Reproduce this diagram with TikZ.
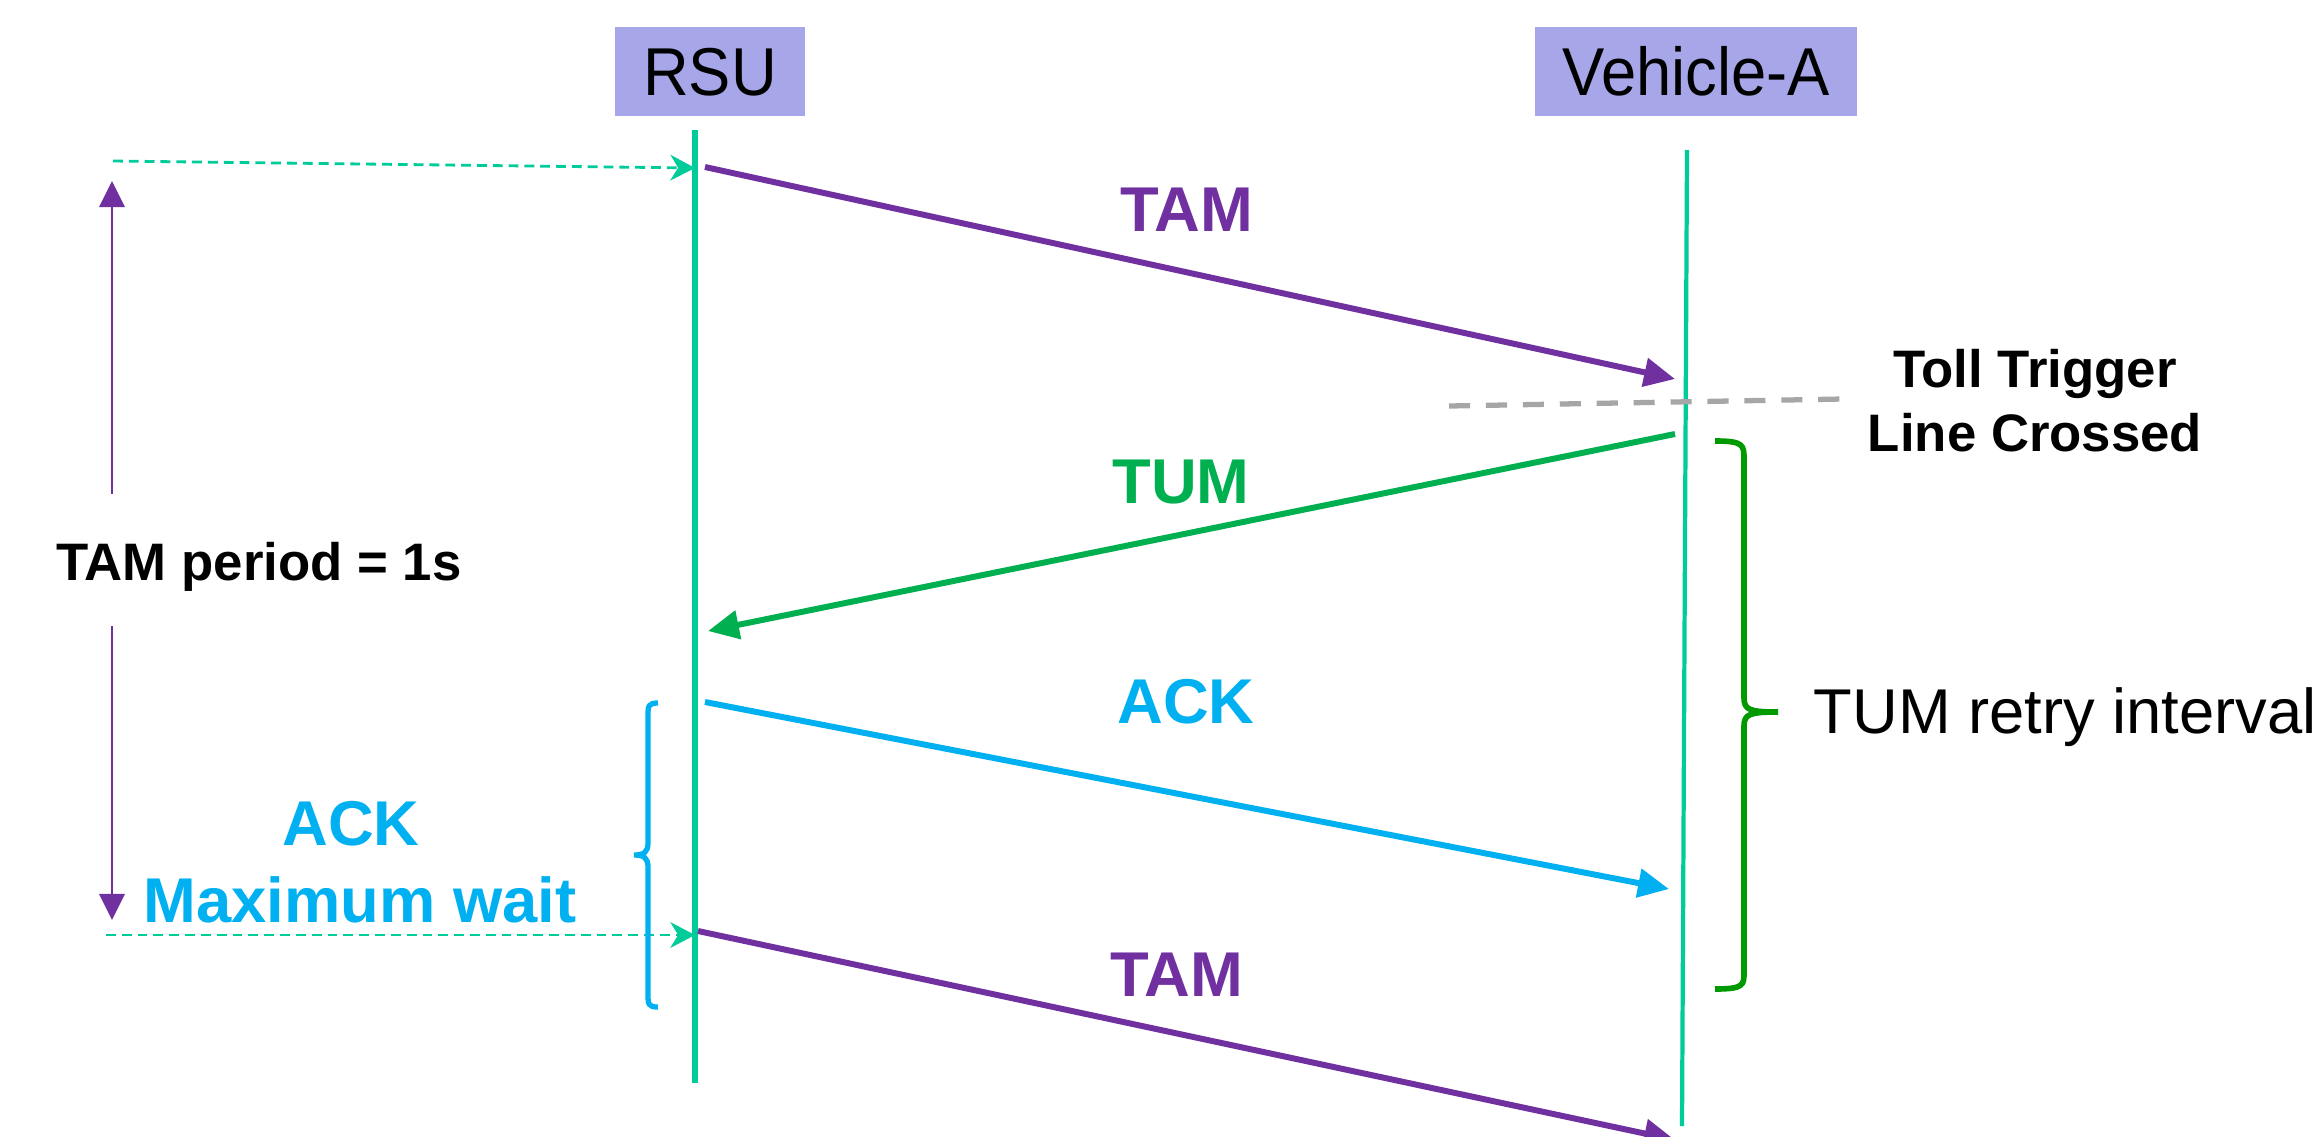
\documentclass[tikz,border=0pt]{standalone}
\usepackage{fontspec}
\usepackage{graphicx}
\setmainfont{Liberation Sans}
\usetikzlibrary{arrows.meta}
\definecolor{lifeline}{RGB}{0,204,153}
\definecolor{boxfill}{RGB}{166,166,232}
\definecolor{tampurple}{RGB}{112,48,160}
\definecolor{tumgreen}{RGB}{0,176,80}
\definecolor{ackcyan}{RGB}{0,176,240}
\definecolor{bracegreen}{RGB}{0,153,0}
\definecolor{triggergray}{RGB}{166,166,166}
\begin{document}
\begin{tikzpicture}[x=0.01cm,y=-0.01cm,
  actor/.style={fill=boxfill, inner sep=0pt, minimum height=0.89cm, text height=13.8pt, text depth=0pt, font=\fontsize{18}{20}\selectfont},
  msg/.style={line width=1.7pt, -{Triangle[length=8.8pt,width=8pt]}},
  lbl/.style={inner sep=0pt, text height=12.9pt, text depth=0pt, font=\fontsize{18}{20}\selectfont\bfseries},
  note/.style={inner sep=0pt, text height=10.7pt, text depth=0pt, font=\fontsize{15}{18}\selectfont\bfseries},
  plain/.style={inner sep=0pt, text height=12.9pt, text depth=0pt, font=\fontsize{18}{20}\selectfont},
  guide/.style={draw=lifeline, line width=0.8pt, dash pattern=on 2.8pt off 1.7pt, -{Stealth[length=7pt,width=7.3pt,inset=2.2pt,fill=lifeline]}},
  period/.style={draw=tampurple, line width=0.7pt, -{Triangle[length=7.4pt,width=7.2pt,fill=tampurple]}},
]
\useasboundingbox (0,0) rectangle (2324,1136);
\clip (0,0) rectangle (2324,1136);

% actors
\node[actor, minimum width=1.90cm] (rsu) at (710,71.5) {\scalebox{1}[1.07]{RSU}};
\node[actor, minimum width=3.22cm] (veh) at (1696,71.5) {\scalebox{1}[1.07]{Vehicle-A}};

% lifelines
\coordinate (rsuTop) at (695,130);
\coordinate (rsuBot) at (695,1083);
\coordinate (vehTop) at (1687,150);
\coordinate (vehBot) at (1682,1126);
\draw[lifeline, line width=1.8pt] (rsuTop) -- (rsuBot);
\draw[lifeline, line width=1.2pt] (vehTop) -- (vehBot);

% toll trigger line
\coordinate (tt1) at (1449,406);
\coordinate (tt2) at (1843,399);
\draw[triggergray, line width=1.5pt, dash pattern=on 6pt off 4.5pt] (tt1) -- (tt2);
\node[note] (toll) at (2035,369) {Toll Trigger};
\node[note] (crossed) at (2035,433) {Line Crossed};

% messages
\coordinate (tam1s) at (705,167);
\coordinate (tam1e) at (1675,379);
\coordinate (tums) at (1675,434);
\coordinate (tume) at (708,631);
\coordinate (acks) at (705,702);
\coordinate (acke) at (1669,889);
\coordinate (tam2s) at (698,931);
\coordinate (tam2e) at (1675,1140);
\draw[msg, tampurple] (tam1s) -- (tam1e);
\draw[msg, tumgreen] (tums) -- (tume);
\draw[msg, ackcyan] (acks) -- (acke);
\draw[msg, tampurple] (tam2s) -- (tam2e);
\node[lbl, text=tampurple] (tam1l) at (1187,209) {TAM};
\node[lbl, text=tumgreen] (tuml) at (1181,481) {TUM};
\node[lbl, text=ackcyan] (ackl) at (1186,701) {ACK};
\node[lbl, text=tampurple] (tam2l) at (1177,974) {TAM};

% TAM period guides
\coordinate (g1s) at (113,161);
\coordinate (g1e) at (695,168);
\coordinate (g2s) at (106,935);
\coordinate (g2e) at (695,935);
\draw[guide] (g1s) -- (g1e);
\draw[guide] (g2s) -- (g2e);
\node[note] (period) at (259,562) {TAM period = 1s};
\coordinate (pUpStart) at (112,494);
\coordinate (pUpTip) at (112,181);
\coordinate (pDownStart) at (112,626);
\coordinate (pDownTip) at (112,920);
\draw[period] (pUpStart) -- (pUpTip);
\draw[period] (pDownStart) -- (pDownTip);

% ACK maximum wait
\draw[ackcyan, line width=1.5pt] (658,703) .. controls (648,703) and (648,706) .. (648,716) -- (648,843) .. controls (648,852) and (644,855) .. (634,855) .. controls (644,855) and (648,858) .. (648,867) -- (648,994) .. controls (648,1004) and (648,1007) .. (658,1007);
\node[lbl, text=ackcyan] (ackw) at (351,823) {ACK};
\node[lbl, text=ackcyan] (maxw) at (360,900) {Maximum wait};

% TUM retry interval
\draw[bracegreen, line width=1.6pt] (1715,441) .. controls (1744,441) and (1744,445) .. (1744,460) -- (1744,698) .. controls (1744,710) and (1750,712) .. (1778,712) .. controls (1750,712) and (1744,714) .. (1744,726) -- (1744,972) .. controls (1744,985) and (1744,989) .. (1715,989);
\node[plain, anchor=west] (retry) at (1813,711) {TUM retry interval};
\end{tikzpicture}
\end{document}
